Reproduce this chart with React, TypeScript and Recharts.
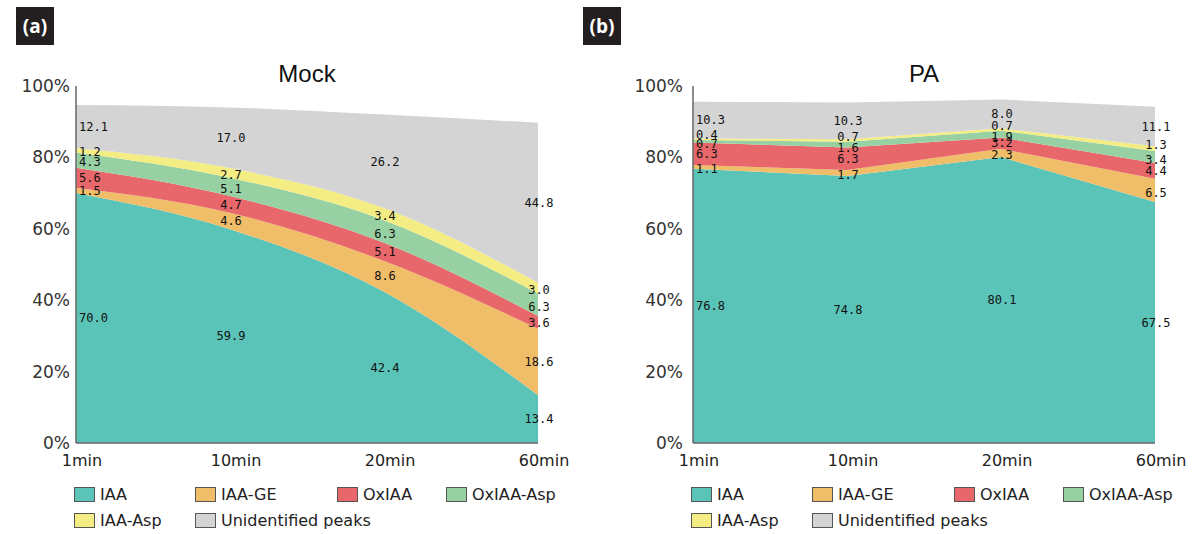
import React from 'react';
import { ComposedChart, Area, Line, XAxis, YAxis, LabelList } from 'recharts';

const times = ['1min', '10min', '20min', '60min'];
const seriesNames = ['IAA', 'IAA-GE', 'OxIAA', 'OxIAA-Asp', 'IAA-Asp', 'Unidentified peaks'];
const seriesColors = ['#5bc4b8', '#f0bd68', '#e8676a', '#97d1a3', '#f4ed84', '#d4d4d4'];
const yTicks = [0, 20, 40, 60, 80, 100];

// Mock
const mockIAA = [70.0, 59.9, 42.4, 13.4];
const mockIAAGE = [1.5, 4.6, 8.6, 18.6];
const mockOxIAA = [5.6, 4.7, 5.1, 3.6];
const mockOxIAAAsp = [4.3, 5.1, 6.3, 6.3];
const mockIAAAsp = [1.2, 2.7, 3.4, 3.0];
const mockUnidentified = [12.1, 17.0, 26.2, 44.8];

// PA
const paIAA = [76.8, 74.8, 80.1, 67.5];
const paIAAGE = [1.1, 1.7, 2.3, 6.5];
const paOxIAA = [6.3, 6.3, 3.2, 4.4];
const paOxIAAAsp = [0.7, 1.6, 1.9, 3.4];
const paIAAAsp = [0.4, 0.7, 0.7, 1.3];
const paUnidentified = [10.3, 10.3, 8.0, 11.1];

// one row per time point: sN = value, mN = middle of its band (for the number labels)
function buildRows(series: number[][]) {
  return times.map((t, i) => {
    const row: Record<string, any> = { time: t };
    let base = 0;
    series.forEach((vals, k) => {
      row[`s${k}`] = vals[i];
      row[`m${k}`] = base + vals[i] / 2;
      base += vals[i];
    });
    return row;
  });
}

const mockRows = buildRows([mockIAA, mockIAAGE, mockOxIAA, mockOxIAAAsp, mockIAAAsp, mockUnidentified]);
const paRows = buildRows([paIAA, paIAAGE, paOxIAA, paOxIAAAsp, paIAAAsp, paUnidentified]);

const ValueLabel = (props: any) => {
  const vb = props.viewBox || {};
  const x = props.x ?? vb.x + (vb.width || 0) / 2;
  const y = props.y ?? vb.y + (vb.height || 0) / 2;
  const first = props.index === 0;
  return (
    <text
      x={first ? x + 3 : x + 1}
      y={y + (props.shift || 0)}
      dy="0.35em"
      textAnchor={first ? 'start' : 'middle'}
      fontFamily="DejaVu Sans Mono"
      fontSize={12}
      fill="#111"
    >
      {Number(props.value).toFixed(1)}
    </text>
  );
};

const TimeTick = (props: any) => {
  const { x, y, payload } = props;
  return (
    <text x={x + 6} y={y} dy="0.71em" textAnchor="middle" fontFamily="DejaVu Sans" fontSize={16} fill="#222">
      {payload.value}
    </text>
  );
};

const legendCols = [74, 195, 337, 446];

function LegendBox() {
  return (
    <>
      {seriesNames.map((name, k) => (
        <div
          key={name}
          style={{
            position: 'absolute',
            left: legendCols[k % 4],
            top: k < 4 ? 485 : 511,
            height: 18,
            display: 'flex',
            alignItems: 'center',
            fontFamily: 'DejaVu Sans',
            fontSize: 16,
            color: '#222',
            whiteSpace: 'nowrap',
          }}
        >
          <span
            style={{
              display: 'inline-block',
              width: 19,
              height: 13,
              background: seriesColors[k],
              border: '1px solid #555',
              marginRight: 5,
            }}
          />
          {name}
        </div>
      ))}
    </>
  );
}

function Panel({ left, title, rows, curve, yGap, shifts }: { left: number; title: string; rows: any[]; curve: 'monotone' | 'linear'; yGap: number; shifts: number[] }) {
  return (
    <div style={{ position: 'absolute', left, top: 0, width: 600, height: 534 }}>
      <div
        style={{
          position: 'absolute',
          left: 76,
          width: 462,
          top: 62,
          textAlign: 'center',
          fontFamily: 'Liberation Sans',
          fontSize: 24,
          lineHeight: '24px',
          color: '#111',
        }}
      >
        {title}
      </div>
      <ComposedChart width={600} height={473} data={rows} margin={{ top: 86, right: 62, left: 16, bottom: 0 }}>
        <XAxis
          dataKey="time"
          scale="point"
          height={30}
          tickLine={false}
          tickSize={0}
          tickMargin={12}
          axisLine={{ stroke: '#666', strokeWidth: 1.5 }}
          tick={<TimeTick />}
          interval={0}
        />
        <YAxis
          width={60}
          domain={[0, 100]}
          ticks={yTicks}
          tickFormatter={(v: number) => `${v}%`}
          tickLine={false}
          tickSize={0}
          tickMargin={yGap}
          axisLine={{ stroke: '#666', strokeWidth: 1.5 }}
          tick={{ fontFamily: 'DejaVu Sans', fontSize: 17, fill: '#333' }}
        />
        {seriesNames.map((name, k) => (
          <Area
            key={name}
            type={curve}
            dataKey={`s${k}`}
            name={name}
            stackId="a"
            stroke="none"
            fill={seriesColors[k]}
            fillOpacity={1}
            isAnimationActive={false}
            activeDot={false}
          />
        ))}
        {seriesNames.map((name, k) => (
          <Line
            key={`lbl-${name}`}
            type="linear"
            dataKey={`m${k}`}
            stroke="none"
            strokeOpacity={0}
            dot={false}
            activeDot={false}
            isAnimationActive={false}
            legendType="none"
          >
            <LabelList dataKey={`s${k}`} content={<ValueLabel shift={shifts[k]} />} />
          </Line>
        ))}
      </ComposedChart>
      <LegendBox />
    </div>
  );
}

function Tag({ left, text }: { left: number; text: string }) {
  return (
    <div
      style={{
        position: 'absolute',
        left,
        top: 7,
        width: 38,
        height: 38,
        background: '#231f20',
        color: '#fff',
        fontFamily: 'Open Sans',
        fontWeight: 700,
        fontSize: 19,
        display: 'flex',
        alignItems: 'center',
        justifyContent: 'center',
      }}
    >
      {text}
    </div>
  );
}

export default function App() {
  return (
    <div style={{ position: 'relative', width: 1203, height: 534, background: '#fff', overflow: 'hidden' }}>
      <style>{'body{margin:0}'}</style>
      <Panel left={0} title="Mock" rows={mockRows} curve="monotone" yGap={6} shifts={[0, 0, 0, 2, 2, 0]} />
      <Panel left={617} title="PA" rows={paRows} curve="linear" yGap={10} shifts={[0, 2, 0, 3, -4, 0]} />
      <Tag left={16} text="(a)" />
      <Tag left={583} text="(b)" />
    </div>
  );
}
